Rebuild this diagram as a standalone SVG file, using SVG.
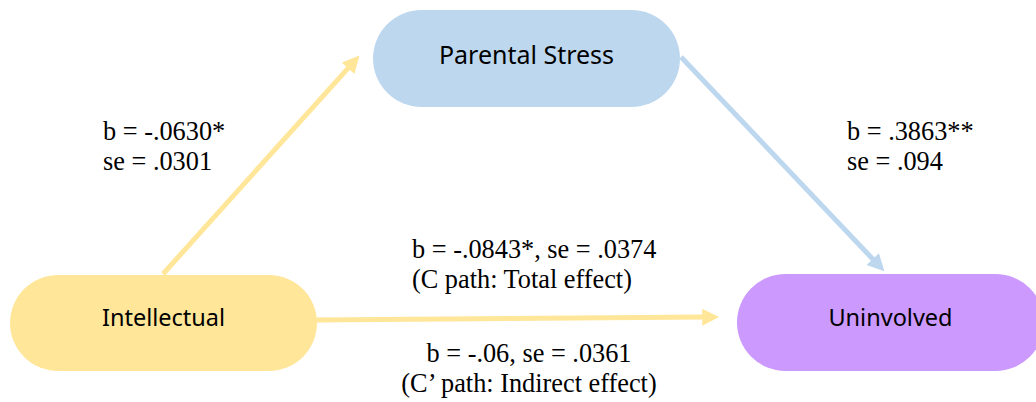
<svg xmlns="http://www.w3.org/2000/svg" width="1036" height="402" viewBox="0 0 1036 402">
<style>
.node-label{font-family:"Noto Sans","Liberation Sans",sans-serif;font-size:23.5px;fill:#000;text-anchor:middle}
.lbl{font-family:"Liberation Serif","Times New Roman",serif;font-size:26.3px;fill:#000}
.c-yellow{stroke:#FFE699;stroke-width:5;fill:none}
.c-blue{stroke:#BDD7EE;stroke-width:5;fill:none}
</style>
<defs>
<marker id="arrY" viewBox="0 0 10 10" refX="2" refY="5" markerUnits="userSpaceOnUse" markerWidth="18" markerHeight="17" orient="auto"><path d="M0,0 L10,5 L0,10 z" fill="#FFE699"/></marker>
<marker id="arrB" viewBox="0 0 10 10" refX="2" refY="5" markerUnits="userSpaceOnUse" markerWidth="18" markerHeight="17" orient="auto"><path d="M0,0 L10,5 L0,10 z" fill="#BDD7EE"/></marker>
</defs>
<rect width="1036" height="402" fill="#fff"/>
<g id="connectors">
<line class="c-yellow" x1="163" y1="274" x2="350.4" y2="65.7" marker-end="url(#arrY)"/>
<line class="c-blue" x1="681" y1="57" x2="875.1" y2="261.5" marker-end="url(#arrB)"/>
<line class="c-yellow" x1="316" y1="320" x2="705.6" y2="317.1" marker-end="url(#arrY)"/>
</g>
<g id="node-parental-stress">
<rect x="373" y="10" width="307" height="97" rx="48.5" fill="#BDD7EE"/>
<text class="node-label" x="526.5" y="64" style="font-size:25px">Parental Stress</text>
</g>
<g id="node-intellectual">
<rect x="10" y="275" width="307" height="96" rx="48" fill="#FFE699"/>
<text class="node-label" x="163.5" y="326">Intellectual</text>
</g>
<g id="node-uninvolved">
<rect x="737" y="274" width="307" height="97" rx="48.5" fill="#CC99FF"/>
<text class="node-label" x="890.5" y="326">Uninvolved</text>
</g>
<g id="labels">
<text class="lbl" x="103" y="140">b = -.0630*</text>
<text class="lbl" x="103" y="170">se = .0301</text>
<text class="lbl" x="847" y="140">b = .3863**</text>
<text class="lbl" x="847" y="170">se = .094</text>
<text class="lbl" x="412" y="258">b = -.0843*, se = .0374</text>
<text class="lbl" x="412" y="288">(C path: Total effect)</text>
<text class="lbl" x="529" y="362" text-anchor="middle">b = -.06, se = .0361</text>
<text class="lbl" x="529" y="392" text-anchor="middle">(C’ path: Indirect effect)</text>
</g>
</svg>
